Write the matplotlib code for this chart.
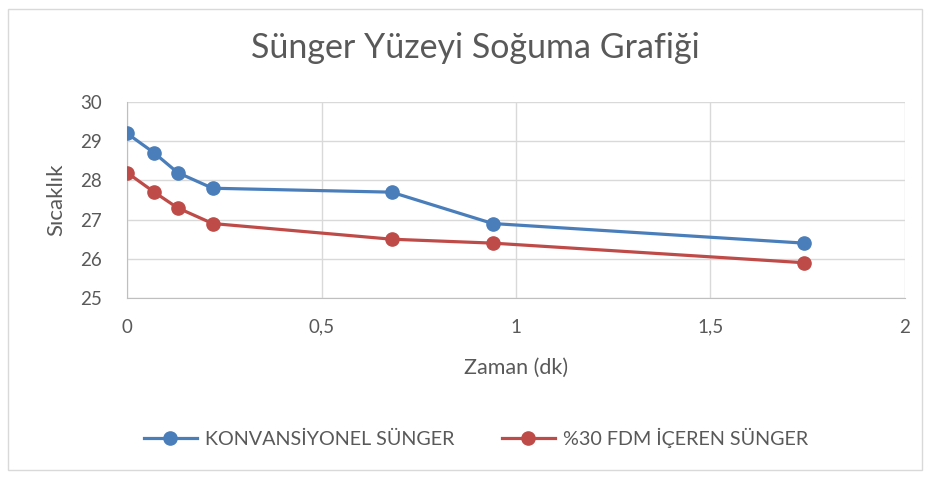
import matplotlib.pyplot as plt
from matplotlib.patches import Rectangle

# Data: cooling of sponge surface over time
zaman = [0, 0.07, 0.13, 0.22, 0.68, 0.94, 1.74]
konvansiyonel = [29.2, 28.7, 28.2, 27.8, 27.7, 26.9, 26.4]
fdm30 = [28.2, 27.7, 27.3, 26.9, 26.5, 26.4, 25.9]
xticks = [0, 0.5, 1, 1.5, 2]
xticklabels = ["0", "0,5", "1", "1,5", "2"]
yticks = [25, 26, 27, 28, 29, 30]

plt.rcParams['font.family'] = ["Lato", "DejaVu Sans"]
text_col = "#595959"
grid_col = "#d9d9d9"

fig = plt.figure(figsize=(9.31, 4.79), dpi=100)
ax = fig.add_axes([127/931, 1 - 298/479, (905 - 127)/931, (298 - 102)/479])

# outer chart border
fig.patches.append(Rectangle((8/931, 9/479), 914/931, 461/479, transform=fig.transFigure,
                             fill=False, edgecolor="#d9d9d9", linewidth=1))

ax.plot(zaman, konvansiyonel, color="#4a7ebb", linewidth=2.3, marker="o",
        markersize=9.5, label="KONVANSİYONEL SÜNGER", zorder=3)
ax.plot(zaman, fdm30, color="#be4b48", linewidth=2.3, marker="o",
        markersize=9.5, label="%30 FDM İÇEREN SÜNGER", zorder=3)

ax.set_xlim(0, 2)
ax.set_ylim(25, 30)
ax.set_xticks(xticks)
ax.set_xticklabels(xticklabels)
ax.set_yticks(yticks)
ax.grid(True, color=grid_col, linewidth=1)
ax.tick_params(length=0, labelsize=13.5, colors=text_col)
ax.tick_params(axis="x", pad=15)
ax.tick_params(axis="y", pad=18)
for s in ["top", "right"]:
    ax.spines[s].set_visible(False)
for s in ["left", "bottom"]:
    ax.spines[s].set_color("#bfbfbf")

ax.set_xlabel("Zaman (dk)", fontsize=15.5, color=text_col, labelpad=16)
ax.set_ylabel("Sıcaklık", fontsize=16, color=text_col, labelpad=10)
fig.text(475/931, 1 - 48/479, "Sünger Yüzeyi Soğuma Grafiği", ha="center", va="center",
         fontsize=24.5, color=text_col)

fig.legend(loc="center", bbox_to_anchor=(476/931, 1 - 438/479), ncol=2, frameon=False,
           fontsize=14.2, labelcolor=text_col, handlelength=2.7, handletextpad=0.4,
           columnspacing=2.4)

fig.savefig("out.png", dpi=100)
